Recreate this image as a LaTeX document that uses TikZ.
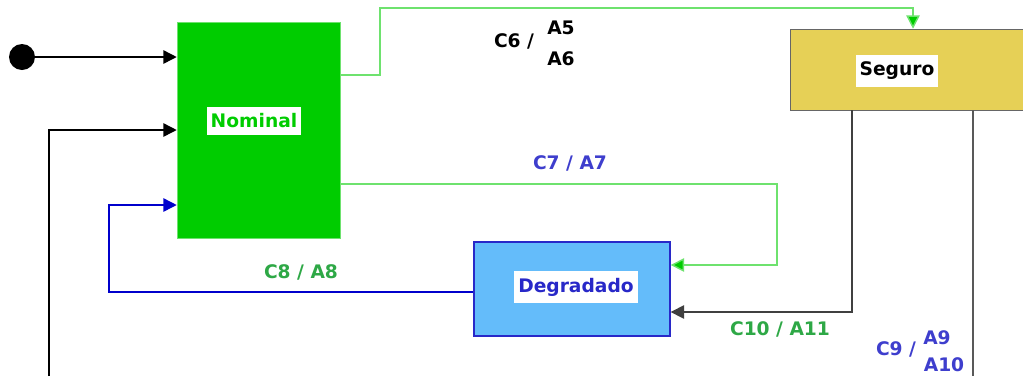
\documentclass[tikz,border=0pt]{standalone}
\usepackage{fontspec}
\setmainfont{DejaVu Sans}
\usetikzlibrary{arrows.meta, positioning, calc}

\definecolor{nomgreen}{RGB}{0,204,0}
\definecolor{linegreen}{RGB}{110,226,110}
\definecolor{labgreen}{RGB}{46,168,70}
\definecolor{labblue}{RGB}{62,62,205}
\definecolor{segfill}{RGB}{230,208,86}
\definecolor{degfill}{RGB}{100,188,250}
\definecolor{degblue}{RGB}{40,40,200}

\begin{document}
\begin{tikzpicture}[
    x=0.75pt, y=-0.75pt,
    font=\bfseries\fontsize{14}{16}\selectfont,
    state/.style={rectangle, draw, inner sep=0pt},
    tag/.style={fill=white, inner xsep=3pt, inner ysep=5pt},
    lab/.style={inner sep=0pt},
    arr/.style={-{Triangle[length=10pt,width=10pt]}, line width=1.1pt},
    startdot/.style={circle, fill=black, minimum size=19.5pt, inner sep=0pt}
]
    \useasboundingbox (0,0) rectangle (1023,376);

    \node [startdot] (start) at (22,57) {};
    \node [state, fill=nomgreen, draw=linegreen, minimum width=122.25pt, minimum height=162pt] (nominal) at (258.5,130) {};
    \node [state, fill=segfill, draw=black!60, minimum width=187.5pt, minimum height=60.75pt] (seguro) at (915,69.5) {};
    \node [state, fill=degfill, draw=degblue, line width=1pt, minimum width=147pt, minimum height=70.5pt] (degradado) at (572,289) {};

    \node [tag, text=nomgreen] (nominalTxt) at (254,121) {Nominal};
    \node [tag] (seguroTxt) at (897,71) {Seguro};
    \node [tag, text=degblue] (degradadoTxt) at (576,287) {Degradado};

    \coordinate (loopIn) at (49,376);
    \coordinate (loopOut) at (973,376);

    \draw [arr] (start) -- (start -| nominal.west);
    \draw [arr] (loopIn) |- (nominal.west |- 0,130);
    \draw [arr, draw=blue!80!black] (degradado.west |- 0,292) -| (109,205) -- (nominal.west |- 0,205);
    \draw [arr, draw=linegreen, -{Triangle[length=10pt,width=10pt,fill=nomgreen]}] (nominal.east |- 0,75) -| (380,8) -| (seguro.north -| 913,0);
    \draw [arr, draw=linegreen, -{Triangle[length=10pt,width=10pt,fill=nomgreen]}] (nominal.east |- 0,184) -| (777,265) -- (degradado.east |- 0,265);
    \draw [arr, draw=black!75] (seguro.south -| 852,0) |- (degradado.east |- 0,312);
    \draw [line width=1.1pt, black!65] (seguro.south -| 973,0) -- (loopOut);

    \node [lab] (c6) at (514,41) {C6 /};
    \node [lab] (a5) at (561,28) {A5};
    \node [lab] (a6) at (561,59) {A6};
    \node [lab, text=labblue] (c7) at (570,163) {C7 / A7};
    \node [lab, text=labgreen] (c8) at (301,272) {C8 / A8};
    \node [lab, text=labgreen] (c10) at (780,329) {C10 / A11};
    \node [lab, text=labblue] (c9) at (896,349) {C9 /};
    \node [lab, text=labblue] (a9) at (937,338) {A9};
    \node [lab, text=labblue] (a10) at (944,365) {A10};
\end{tikzpicture}
\end{document}
